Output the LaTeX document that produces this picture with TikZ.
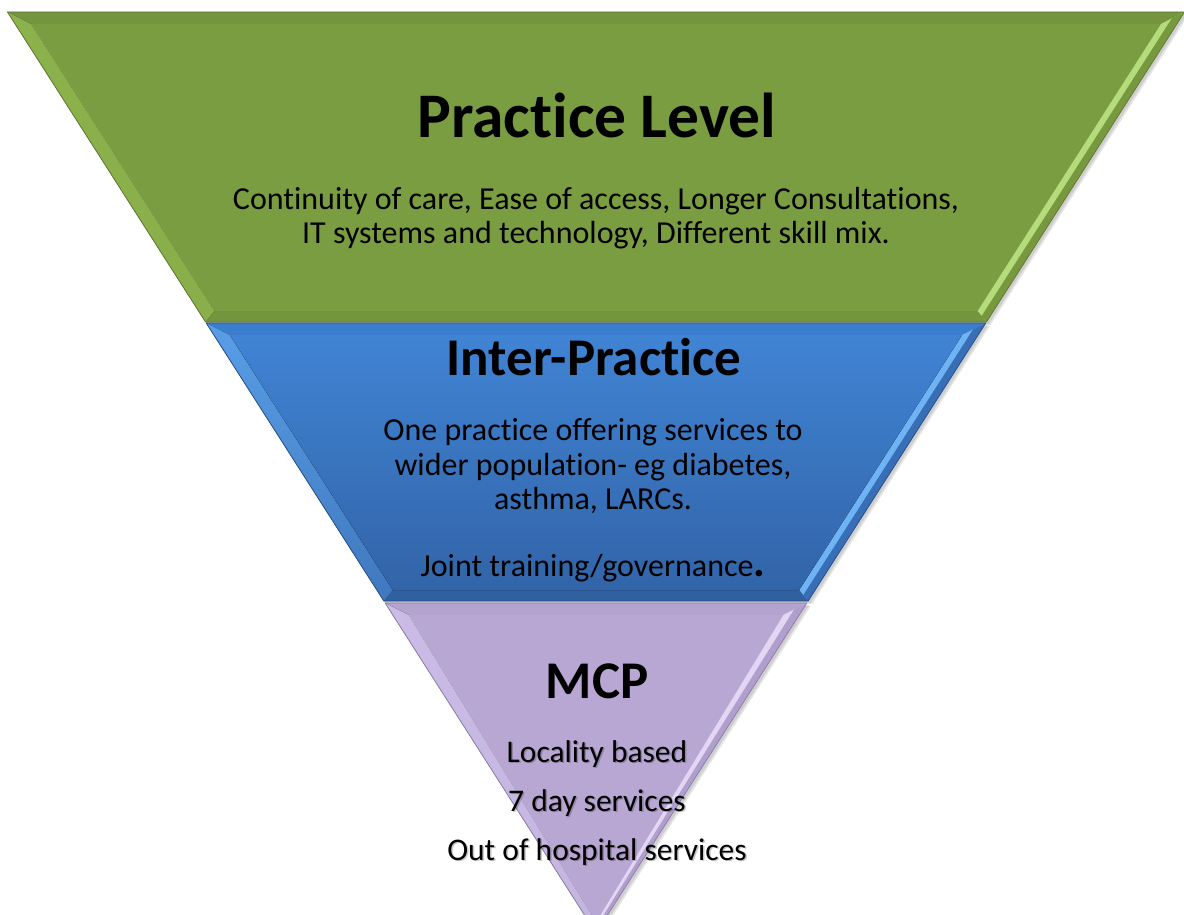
\documentclass[tikz,border=0pt]{standalone}
\usepackage{fontspec}
\setmainfont{Carlito}[Ligatures=NoCommon]
\usetikzlibrary{calc}

\definecolor{gFace}{RGB}{123,157,66}
\definecolor{gTop}{RGB}{116,148,61}
\definecolor{gLeft}{RGB}{140,178,76}
\definecolor{gRightIn}{RGB}{180,220,122}
\definecolor{gRightOut}{RGB}{120,152,63}
\definecolor{gBot}{RGB}{116,148,62}
\definecolor{gLine}{RGB}{96,122,50}

\definecolor{bFaceTop}{RGB}{64,132,212}
\definecolor{bFaceBot}{RGB}{50,100,168}
\definecolor{bTop}{RGB}{60,126,206}
\definecolor{bLeftTop}{RGB}{88,158,230}
\definecolor{bLeftBot}{RGB}{64,120,190}
\definecolor{bRightIn}{RGB}{110,180,245}
\definecolor{bRightOut}{RGB}{56,110,182}
\definecolor{bBot}{RGB}{48,96,160}
\definecolor{bLine}{RGB}{40,80,134}

\definecolor{pFace}{RGB}{185,167,211}
\definecolor{pTop}{RGB}{180,162,207}
\definecolor{pLeft}{RGB}{202,188,230}
\definecolor{pRightIn}{RGB}{226,214,244}
\definecolor{pRightOut}{RGB}{176,158,205}
\definecolor{pBot}{RGB}{176,158,204}
\definecolor{pLine}{RGB}{142,126,172}

\tikzset{
  headtext/.style={anchor=base, inner sep=0pt, font=\bfseries\fontsize{53}{60}\selectfont},
  bigheadtext/.style={anchor=base, inner sep=0pt, font=\bfseries\fontsize{63.5}{74}\selectfont},
  bodytext/.style={anchor=base, inner sep=0pt, font=\fontsize{32}{38}\selectfont},
  purpletext/.style={anchor=base, inner sep=0pt, font=\fontsize{31.5}{38}\selectfont},
  shadowtext/.style={purpletext, text=black, opacity=0.22},
}

% #1 top y, #2 bottom y, #3 top facet, #4 right highlight, #5 bottom facet, #6 left facet, #7 face, #8 outline, #9 right outer
\newcommand{\drawband}[9]{%
  \pgfmathsetmacro{\ya}{#1}%
  \pgfmathsetmacro{\yb}{#2}%
  \pgfmathsetmacro{\hA}{0.639*(933-\ya)}%
  \pgfmathsetmacro{\hB}{0.639*(933-\yb)}%
  \pgfmathsetmacro{\yc}{\ya+12}%
  \pgfmathsetmacro{\yd}{\yb-11}%
  \pgfmathsetmacro{\hC}{max(0.639*(933-\yc)-16,0)}%
  \pgfmathsetmacro{\hD}{max(0.639*(933-\yd)-16,0)}%
  \coordinate (TL) at ({596-\hA},\ya);
  \coordinate (TR) at ({596+\hA},\ya);
  \coordinate (BR) at ({596+\hB},\yb);
  \coordinate (BL) at ({596-\hB},\yb);
  \coordinate (tl) at ({596-\hC},\yc);
  \coordinate (tr) at ({596+\hC},\yc);
  \coordinate (br) at ({596+\hD},\yd);
  \coordinate (bl) at ({596-\hD},\yd);
  \coordinate (mtr) at ($(tr)!0.45!(TR)$);
  \coordinate (mbr) at ($(br)!0.45!(BR)$);
  \fill[black,opacity=0.10] ($(TL)+(2,3)$) -- ($(TR)+(4,3)$) -- ($(BR)+(4,3)$) -- ($(BL)+(2,3)$) -- cycle;
  \fill[black,opacity=0.10] ($(TL)+(1,2)$) -- ($(TR)+(2.5,2)$) -- ($(BR)+(2.5,2)$) -- ($(BL)+(1,2)$) -- cycle;
  \fill[#3] (TL) -- (TR) -- (tr) -- (tl) -- cycle;
  \fill[#9] (TR) -- (BR) -- (br) -- (tr) -- cycle;
  \fill[#4] (tr) -- (mtr) -- (mbr) -- (br) -- cycle;
  \fill[#5] (BL) -- (BR) -- (br) -- (bl) -- cycle;
  \fill[#6] (TL) -- (tl) -- (bl) -- (BL) -- cycle;
  \fill[#7] (tl) -- (tr) -- (br) -- (bl) -- cycle;
  \draw[#8, line width=0.8pt, line join=round] (TL) -- (TR) -- (BR) -- (BL) -- cycle;
}

\begin{document}
\begin{tikzpicture}[x=1pt,y=-1pt]
\useasboundingbox (0,0) rectangle (1184,915);
\begin{scope}
\clip (0,0) rectangle (1184,915);
% green band
\drawband{12}{322}{gTop}{gRightIn}{gBot}{left color=gLeft, right color=gLeft!80!gFace}{gFace}{gLine}{gRightOut}
% blue band
\drawband{323}{601}{bTop}{bRightIn}{bBot}{top color=bLeftTop, bottom color=bLeftBot}{top color=bFaceTop, bottom color=bFaceBot}{bLine}{bRightOut}
% purple band
\drawband{603}{933}{pTop}{pRightIn}{pBot}{left color=pLeft, right color=pLeft!70!pFace}{pFace}{pLine}{pRightOut}
\end{scope}

% texts
\node[bigheadtext] (pl) at (597,138) {Practice Level};
\node[bodytext] (pl1) at (596,209) {Continuity of care, Ease of access, Longer Consultations,};
\node[bodytext] (pl2) at (596,243) {IT systems and technology, Different skill mix.};

\node[headtext] (ip) at (594,375) {Inter-Practice};
\node[bodytext] (ip1) at (593,440) {One practice offering services to};
\node[bodytext] (ip2) at (593,475) {wider population- eg diabetes,};
\node[bodytext] (ip3) at (593,509) {asthma, LARCs.};
\node[bodytext] (ip4) at (593,576) {Joint training/governance{\fontsize{44}{44}\selectfont\bfseries .}};

\node[headtext] (mcp) at (597,698) {MCP};
\node[shadowtext] (mcp1s) at (598.5,763.5) {Locality based};
\node[shadowtext] (mcp2s) at (598.5,812.5) {7 day services};
\node[shadowtext] (mcp3s) at (598.5,861.5) {Out of hospital services};
\node[purpletext] (mcp1) at (597,762) {Locality based};
\node[purpletext] (mcp2) at (597,811) {7 day services};
\node[purpletext] (mcp3) at (597,860) {Out of hospital services};
\end{tikzpicture}
\end{document}
